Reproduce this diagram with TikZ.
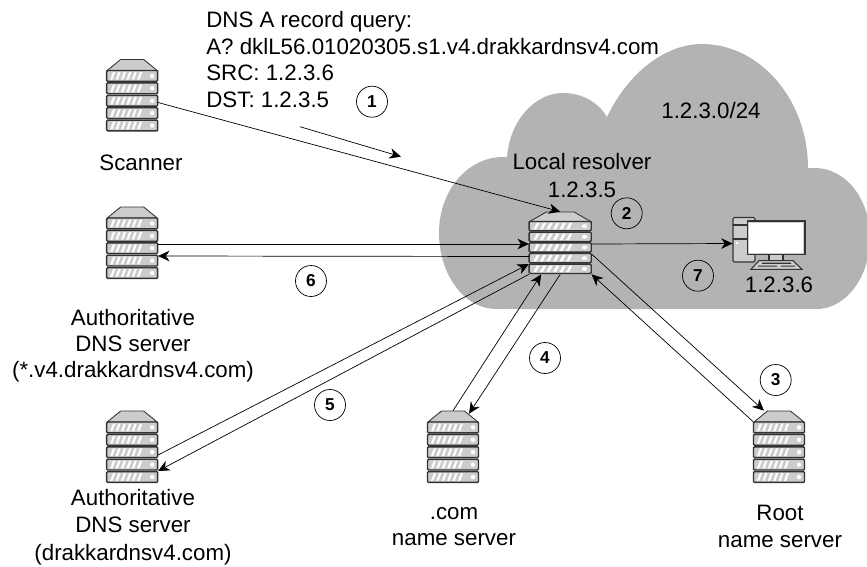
\documentclass[tikz,border=0pt]{standalone}
\usepackage{fontspec}
\setmainfont{Liberation Sans}
\usetikzlibrary{arrows.meta}

\definecolor{cloudgrey}{HTML}{B3B3B3}
\definecolor{rackgrey}{HTML}{CCCCCC}
\definecolor{rackline}{HTML}{333333}

\tikzset{
  >={Stealth[length=6.5pt,width=6pt,inset=2pt]},
  lbl/.style={font=\fontsize{12.7}{14.9}\selectfont,align=center,inner sep=0pt},
  stepmark/.style={draw,circle,minimum size=31*0.02cm,inner sep=0pt,font=\fontsize{9.8}{12}\selectfont\bfseries},
  srvbox/.style={minimum width=51*0.02cm,minimum height=72*0.02cm,inner sep=0pt},
  srv/.pic={
    \draw[fill=rackgrey,draw=rackline,line width=0.5pt] (-25,-25) -- (-11.5,-36) -- (11.5,-36) -- (25,-25) -- cycle;
    \foreach \r in {-25,-12.6,-0.2,12.2,24.6} {
      \draw[fill=rackgrey,draw=rackline,line width=0.8pt,rounded corners=0.6pt] (-25.5,\r) rectangle (25.5,\r+10.8);
      \foreach \i in {0,...,5} {
        \fill[white] (-22+\i*5.4,\r+9.2) -- (-19.8+\i*5.4,\r+9.2) -- (-17+\i*5.4,\r+1.6) -- (-19.2+\i*5.4,\r+1.6) -- cycle;
      }
      \fill[white] (20,\r+5.4) circle (2.2);
    }
  },
  desktop/.pic={
    % tower
    \draw[fill=rackgrey,draw=rackline,line width=0.6pt,rounded corners=0.8pt] (-36,-26) rectangle (-14,18.5);
    \draw[draw=rackline,line width=0.6pt] (-36,-18.5) -- (-14,-18.5) (-36,-4.5) -- (-14,-4.5);
    \fill[white] (-32,-0.5) circle (1.3);
    % screen
    \draw[fill=rackgrey,draw=rackline,line width=0.7pt] (0,10.5) rectangle (14,17);
    \draw[fill=rackgrey,draw=rackline,line width=0.7pt] (-21.7,-22.5) rectangle (36,10.8);
    \fill[white] (-20,-21) rectangle (34.3,9);
    % keyboard
    \draw[fill=rackgrey,draw=rackline,line width=0.6pt] (-18,25.8) -- (-10,17.2) -- (24,17.2) -- (33,25.8) -- cycle;
    \fill[rackline] (-7,19.2) rectangle (22,20.4) (-11,22) rectangle (8,23.2) (12,22) rectangle (26,23.2);
  }
}

\begin{document}
\begin{tikzpicture}[x=0.02cm,y=-0.02cm]
  \useasboundingbox (0,0) rectangle (867,566);

  % network cloud
  \fill[cloudgrey] (497,309) .. controls (462,309) and (439,272) .. (439,233)
    .. controls (439,190) and (468,157) .. (503,157) -- (507,157)
    .. controls (510,120) and (535,93) .. (563,93)
    .. controls (582,93) and (598,102) .. (607,117)
    .. controls (628,73) and (665,44) .. (702,44)
    .. controls (760,44) and (808,100) .. (808,168) -- (815,168)
    .. controls (845,168) and (870,198) .. (870,238)
    .. controls (870,278) and (845,309) .. (817,309) -- cycle;

  % servers
  \foreach \nm/\xx/\yy in {scanner/132.2/95.5, authv/132.2/243, authz/132.2/447, comns/453/447, rootns/779/447} {
    \node[srvbox] (\nm) at (\xx,\yy) {};
    \pic at (\nm) {srv};
  }
  \node[srvbox,minimum width=62*0.02cm,minimum height=62*0.02cm] (resolver) at (560.2,243) {};
  \pic[xscale=1.216,yscale=0.861] at (resolver) {srv};
  \node[minimum width=72*0.02cm,minimum height=52*0.02cm,inner sep=0pt] (host) at (769,243.5) {};
  \pic at (host) {desktop};

  % messages
  \draw[->] ([shift={(0,7)}]scanner.east) -- (resolver.north);
  \draw[->] ([shift={(0,1)}]authv.east) -- ([shift={(0,1)}]resolver.west);
  \draw[->] ([shift={(0,13.5)}]resolver.west) -- ([shift={(0,13)}]authv.east);
  \draw[->] ([shift={(0,1)}]resolver.east) -- (host.west);
  \draw[->] ([shift={(0,8)}]authz.east) -- ([shift={(0,21)}]resolver.west);
  \draw[->] (resolver.south west) -- ([shift={(0,24)}]authz.east);
  \draw[->] (comns.north) -- ([shift={(-19,0)}]resolver.south);
  \draw[->] (resolver.south) -- ([shift={(16,3)}]comns.north);
  \draw[->] ([shift={(0,11)}]rootns.north west) -- (resolver.south east);
  \draw[->] ([shift={(0,11)}]resolver.east) -- ([shift={(-15,0)}]rootns.north);
  \coordinate (flowa) at (300,126.7);
  \coordinate (flowb) at (401,156.7);
  \draw[->] (flowa) -- (flowb);

  % texts
  \node[lbl,align=left,anchor=north west,font=\fontsize{12.7}{15.15}\selectfont] (query) at (206,11) {DNS A record query:\\A? dklL56.01020305.s1.v4.drakkardnsv4.com\\SRC: 1.2.3.6\\DST: 1.2.3.5};
  \node[lbl] (subnet) at (711,111) {1.2.3.0/24};
  \node[lbl,font=\fontsize{12.7}{15.4}\selectfont] (resname) at (582,175.5) {Local resolver\\1.2.3.5};
  \node[lbl] (hostip) at (779,285) {1.2.3.6};
  \node[lbl] (scanname) at (141,163) {Scanner};
  \node[lbl] (authvname) at (133,345.5) {Authoritative\\DNS server\\(*.v4.drakkardnsv4.com)};
  \node[lbl,font=\fontsize{12.7}{15.6}\selectfont] (authzname) at (133,527) {Authoritative\\DNS server\\(drakkardnsv4.com)};
  \node[lbl] (comname) at (454,526.5) {.com\\name server};
  \node[lbl] (rootname) at (780,526.5) {Root\\name server};

  \node[stepmark] (m1) at (372,101.7) {1};
  \node[stepmark] (m2) at (626.7,213.3) {2};
  \node[stepmark] (m3) at (775.7,380) {3};
  \node[stepmark] (m4) at (545,358) {4};
  \node[stepmark] (m5) at (330,405) {5};
  \node[stepmark] (m6) at (311,281) {6};
  \node[stepmark] (m7) at (698,275.7) {7};
\end{tikzpicture}
\end{document}
